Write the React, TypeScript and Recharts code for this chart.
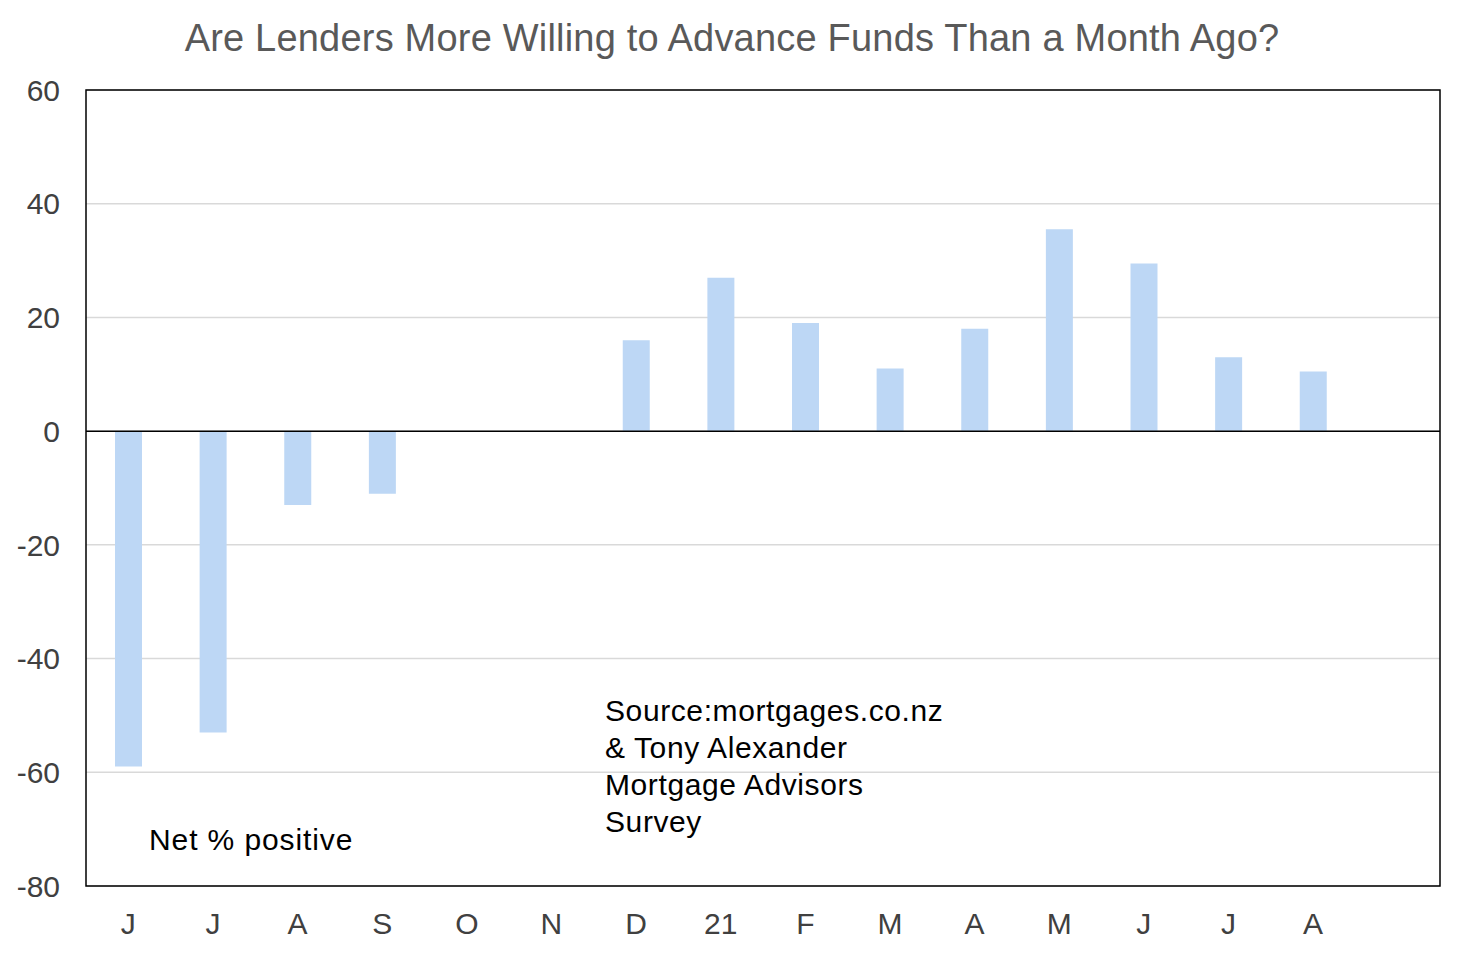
import { BarChart, Bar, XAxis, YAxis, CartesianGrid, ReferenceLine, ReferenceArea } from 'recharts';

const months = ['J', 'J', 'A', 'S', 'O', 'N', 'D', '21', 'F', 'M', 'A', 'M', 'J', 'J', 'A', ''];
const netPositive = [-59, -53, -13, -11, 0, 0, 16, 27, 19, 11, 18, 35.5, 29.5, 13, 10.5, null];
const yTicks = [-80, -60, -40, -20, 0, 20, 40, 60];
const sourceLines = ['Source:mortgages.co.nz', '& Tony Alexander', 'Mortgage Advisors', 'Survey'];

const data = months.map((m, i) => ({ id: i, name: m, value: netPositive[i] }));

const font = 'Liberation Sans, Arial, sans-serif';

export default function App() {
  return (
    <div style={{ position: 'relative', width: 1446, height: 940, fontFamily: font, background: '#fff' }}>
      <div
        style={{
          position: 'absolute',
          top: 9,
          left: -7,
          width: 1462,
          textAlign: 'center',
          fontSize: 38,
          letterSpacing: 0.2,
          color: '#595959',
        }}
      >
        Are Lenders More Willing to Advance Funds Than a Month Ago?
      </div>
      <BarChart
        width={1446}
        height={940}
        data={data}
        margin={{ top: 82, right: 14, left: 8, bottom: 12 }}
        barSize={27}
      >
        <CartesianGrid vertical={false} stroke="#d9d9d9" strokeWidth={1.5} />
        <XAxis
          dataKey="id"
          tickFormatter={(i) => months[i]}
          axisLine={false}
          tickLine={false}
          interval={0}
          height={50}
          tickMargin={21}
          tick={{ fill: '#404040', fontSize: 30, fontFamily: font }}
        />
        <YAxis
          domain={[-80, 60]}
          ticks={yTicks}
          interval={0}
          axisLine={false}
          tickLine={false}
          width={70}
          tickSize={0}
          tickMargin={26}
          tick={{ fill: '#404040', fontSize: 30, fontFamily: font }}
        />
        <Bar dataKey="value" fill="#bdd7f5" isAnimationActive={false} />
        <ReferenceLine y={0} stroke="#000" strokeWidth={1.5} />
        <ReferenceArea y1={-80} y2={60} fill="none" stroke="#000" strokeWidth={1.5} ifOverflow="visible" />
      </BarChart>
      <div
        style={{
          position: 'absolute',
          left: 597,
          top: 684,
          fontSize: 30,
          letterSpacing: 0.6,
          lineHeight: '37px',
          color: '#000',
        }}
      >
        {sourceLines.map((line) => (
          <div key={line}>{line}</div>
        ))}
      </div>
      <div style={{ position: 'absolute', left: 141, top: 815, fontSize: 30, letterSpacing: 0.9, color: '#000' }}>
        Net % positive
      </div>
    </div>
  );
}
